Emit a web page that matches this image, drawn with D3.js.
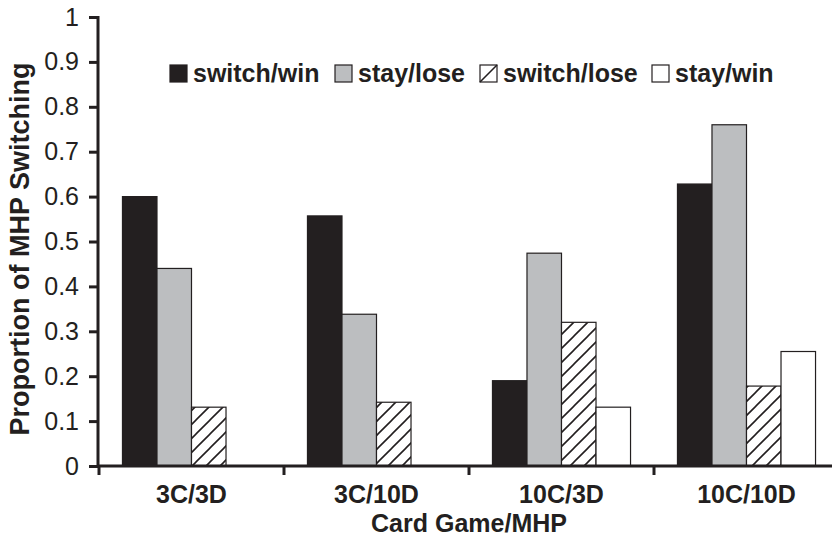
<!DOCTYPE html>
<html>
<head>
<meta charset="utf-8">
<script src="https://cdn.jsdelivr.net/npm/d3@7"></script>
<style>
  html, body { margin: 0; padding: 0; background: #fff; }
  svg { display: block; }
  text { font-family: "Liberation Sans", Arial, Helvetica, sans-serif; fill: #231f20; }
</style>
</head>
<body>
<svg id="chart" width="832" height="547"></svg>
<script>
const categories = ["3C/3D", "3C/10D", "10C/3D", "10C/10D"];
const seriesNames = ["switch/win", "stay/lose", "switch/lose", "stay/win"];
const switchWin  = [0.600, 0.557, 0.190, 0.628];
const stayLose   = [0.440, 0.338, 0.474, 0.760];
const switchLose = [0.131, 0.142, 0.320, 0.178];
const stayWin    = [null, null, 0.131, 0.255];
const yTicks = [0, 0.1, 0.2, 0.3, 0.4, 0.5, 0.6, 0.7, 0.8, 0.9, 1];
const yTickLabels = ["0", "0.1", "0.2", "0.3", "0.4", "0.5", "0.6", "0.7", "0.8", "0.9", "1"];
const xTitle = "Card Game/MHP";
const yTitle = "Proportion of MHP Switching";

const seriesValues = [switchWin, stayLose, switchLose, stayWin];
const fills = ["#231f20", "#bcbec0", "url(#hatch)", "#ffffff"];
const ink = "#231f20";

const svg = d3.select("#chart");

// hatch pattern
const defs = svg.append("defs");
const pat = defs.append("pattern")
  .attr("id", "hatch").attr("patternUnits", "userSpaceOnUse")
  .attr("width", 14).attr("height", 14);
pat.append("rect").attr("width", 14).attr("height", 14).attr("fill", "#fff");
pat.append("path")
  .attr("d", "M0,14 L14,0 M-3.5,3.5 L3.5,-3.5 M10.5,17.5 L17.5,10.5")
  .attr("stroke", ink).attr("stroke-width", 1.6);

const y = d3.scaleLinear().domain([0, 1]).range([466, 17]);
const x0 = d3.scaleBand().domain(categories).range([99, 839]).padding(0);
const x1 = d3.scaleBand().domain(seriesNames).range([0, x0.bandwidth()])
  .paddingInner(0).paddingOuter(0.68);

// bars
const barData = [];
categories.forEach((c, i) => {
  seriesNames.forEach((s, j) => {
    const v = seriesValues[j][i];
    if (v !== null && v !== undefined) barData.push({ c, s, v, j });
  });
});
svg.append("g").selectAll("rect").data(barData).join("rect")
  .attr("x", d => x0(d.c) + x1(d.s))
  .attr("y", d => y(d.v))
  .attr("width", x1.bandwidth())
  .attr("height", d => y(0) - y(d.v))
  .attr("fill", d => fills[d.j])
  .attr("stroke", ink).attr("stroke-width", 1.2);

// y axis
const yAxis = d3.axisLeft(y).tickValues(yTicks)
  .tickFormat((d, i) => yTickLabels[i]).tickSize(9).tickPadding(10);
const gy = svg.append("g").attr("transform", "translate(98,0)").call(yAxis);
gy.select(".domain").remove();
gy.append("line").attr("x1", 0).attr("x2", 0).attr("y1", y(1) - 1).attr("y2", y(0) + 1)
  .attr("stroke", ink).attr("stroke-width", 3);
gy.selectAll(".tick line").attr("stroke", ink).attr("stroke-width", 3);
gy.selectAll(".tick text")
  .style("font-family", "'Liberation Sans', Arial, sans-serif")
  .style("font-size", "25px").attr("fill", ink);

// x axis
const gx = svg.append("g").attr("transform", `translate(0,${y(0)})`);
gx.append("line").attr("x1", 97).attr("x2", 832).attr("y1", 0).attr("y2", 0)
  .attr("stroke", ink).attr("stroke-width", 3);
gx.selectAll("line.tk").data(categories).join("line").attr("class", "tk")
  .attr("x1", d => x0(d)).attr("x2", d => x0(d))
  .attr("y1", 0).attr("y2", 9)
  .attr("stroke", ink).attr("stroke-width", 3);
gx.selectAll("text.cat").data(categories).join("text").attr("class", "cat")
  .attr("x", d => x0(d) + x0.bandwidth() / 2)
  .attr("y", 37)
  .attr("text-anchor", "middle")
  .style("font-size", "25px").style("font-weight", "bold")
  .text(d => d);

// axis titles
svg.append("text")
  .attr("x", (x0.range()[0] + x0.range()[1]) / 2).attr("y", 532)
  .attr("text-anchor", "middle")
  .style("font-size", "25px").style("font-weight", "bold")
  .text(xTitle);
svg.append("text")
  .attr("transform", `translate(29,249) rotate(-90)`)
  .attr("text-anchor", "middle")
  .style("font-size", "27px").style("font-weight", "bold")
  .text(yTitle);

// legend
const legX = [170, 335, 480, 652];
const lg = svg.append("g");
seriesNames.forEach((s, j) => {
  const g = lg.append("g").attr("transform", `translate(${legX[j]},65)`);
  if (j === 2) {
    g.append("rect").attr("width", 17).attr("height", 17).attr("fill", "#fff")
      .attr("stroke", ink).attr("stroke-width", 1.2);
    g.append("line").attr("x1", 0).attr("y1", 17).attr("x2", 17).attr("y2", 0)
      .attr("stroke", ink).attr("stroke-width", 1.6);
  } else {
    g.append("rect").attr("width", 17).attr("height", 17).attr("fill", fills[j])
      .attr("stroke", ink).attr("stroke-width", 1.2);
  }
  g.append("text").attr("x", 23).attr("y", 17)
    .style("font-size", "25px").style("font-weight", "bold")
    .text(s);
});
</script>
</body>
</html>
